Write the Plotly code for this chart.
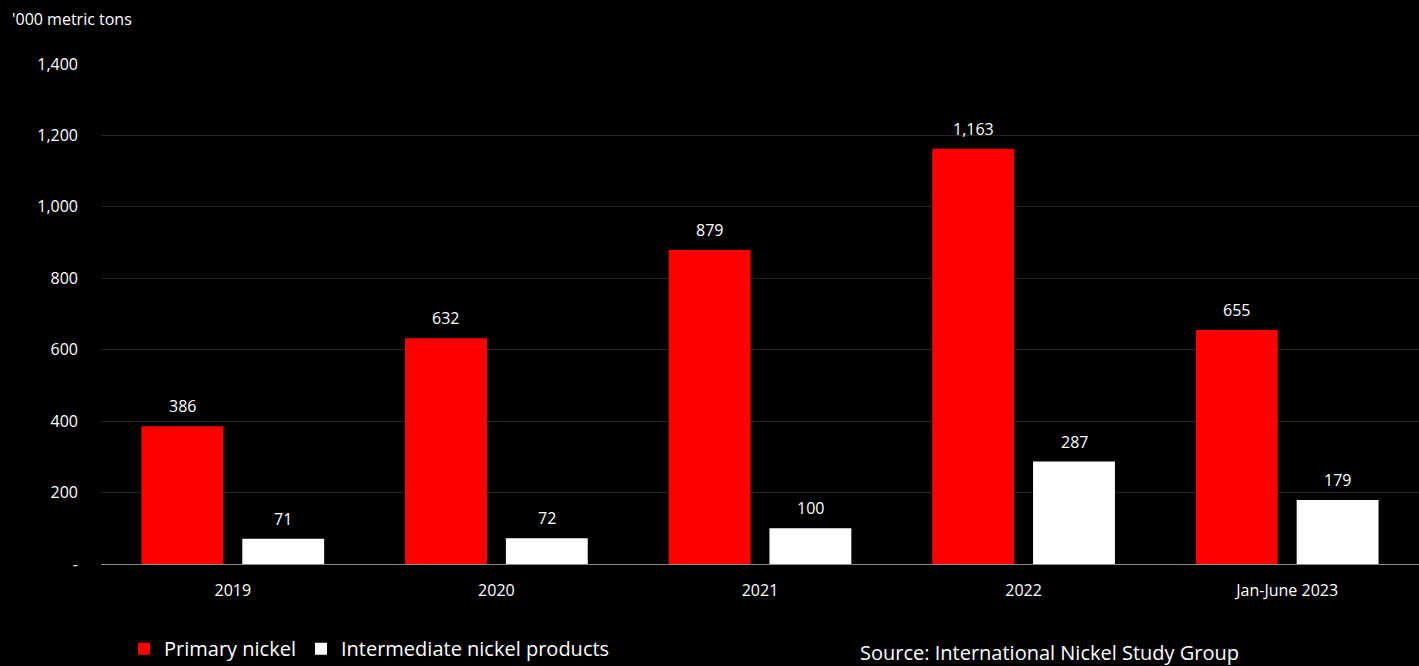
import plotly.graph_objects as go

categories = ["2019", "2020", "2021", "2022", "Jan-June 2023"]
primary = [386, 632, 879, 1163, 655]
intermediate = [71, 72, 100, 287, 179]
tick_vals = [0, 200, 400, 600, 800, 1000, 1200, 1400]
tick_text = ["-", "200", "400", "600", "800", "1,000", "1,200", "1,400"]

FONT = "Open Sans"

def fmt(v):
    return f"{v:,}"

fig = go.Figure()
fig.add_trace(go.Bar(
    x=categories, y=primary, name="Primary nickel",
    marker=dict(color="#ff0000", line=dict(width=0)),
))
fig.add_trace(go.Bar(
    x=categories, y=intermediate, name="Intermediate nickel products",
    marker=dict(color="#ffffff", line=dict(width=0)),
))

# value labels above bars (category index positions, offset per series)
for series, shift in ((primary, -50.5), (intermediate, 50.5)):
    for idx, v in enumerate(series):
        fig.add_annotation(
            x=idx, y=v, xref="x", yref="y", text=fmt(v),
            xshift=shift, yshift=20, showarrow=False,
            xanchor="center", yanchor="middle",
            font=dict(size=16, color="#ffffff", family=FONT),
        )

fig.update_layout(
    width=1419, height=666,
    paper_bgcolor="#000000", plot_bgcolor="#000000",
    margin=dict(l=101, r=0, t=64, b=102, autoexpand=False),
    barmode="group", bargap=0.235, bargroupgap=0.188,
    font=dict(family=FONT, color="#ffffff", size=16),
    showlegend=True,
    legend=dict(
        orientation="h", xref="container", yref="container",
        x=0.0874, y=0.026, xanchor="left", yanchor="middle",
        font=dict(size=20, color="#ffffff", family=FONT),
        bgcolor="rgba(0,0,0,0)", itemsizing="constant",
    ),
)
fig.update_yaxes(
    range=[0, 1400], tickvals=tick_vals, ticktext=tick_text,
    showgrid=True, gridcolor="#262626", gridwidth=1,
    zeroline=False, showline=False, ticks="", ticklabelstandoff=22,
    tickfont=dict(size=16, color="#ffffff", family=FONT),
)
fig.update_xaxes(
    type="category", range=[-0.5, len(categories) - 0.5],
    showline=True, linecolor="#8c8c8c", linewidth=1,
    ticks="", tickfont=dict(size=16, color="#ffffff", family=FONT),
    ticklabelstandoff=12,
)
fig.add_annotation(
    text="'000 metric tons", xref="paper", yref="paper",
    x=-91/1318, y=1 + 45/500, xanchor="left", yanchor="middle",
    showarrow=False, font=dict(size=16, color="#ffffff", family=FONT),
)
fig.add_annotation(
    text="Source: International Nickel Study Group", xref="paper", yref="paper",
    x=(858-101)/1318, y=-88/500, xanchor="left", yanchor="middle",
    showarrow=False, font=dict(size=20, color="#ffffff", family=FONT),
)

fig.write_html("out.html")
